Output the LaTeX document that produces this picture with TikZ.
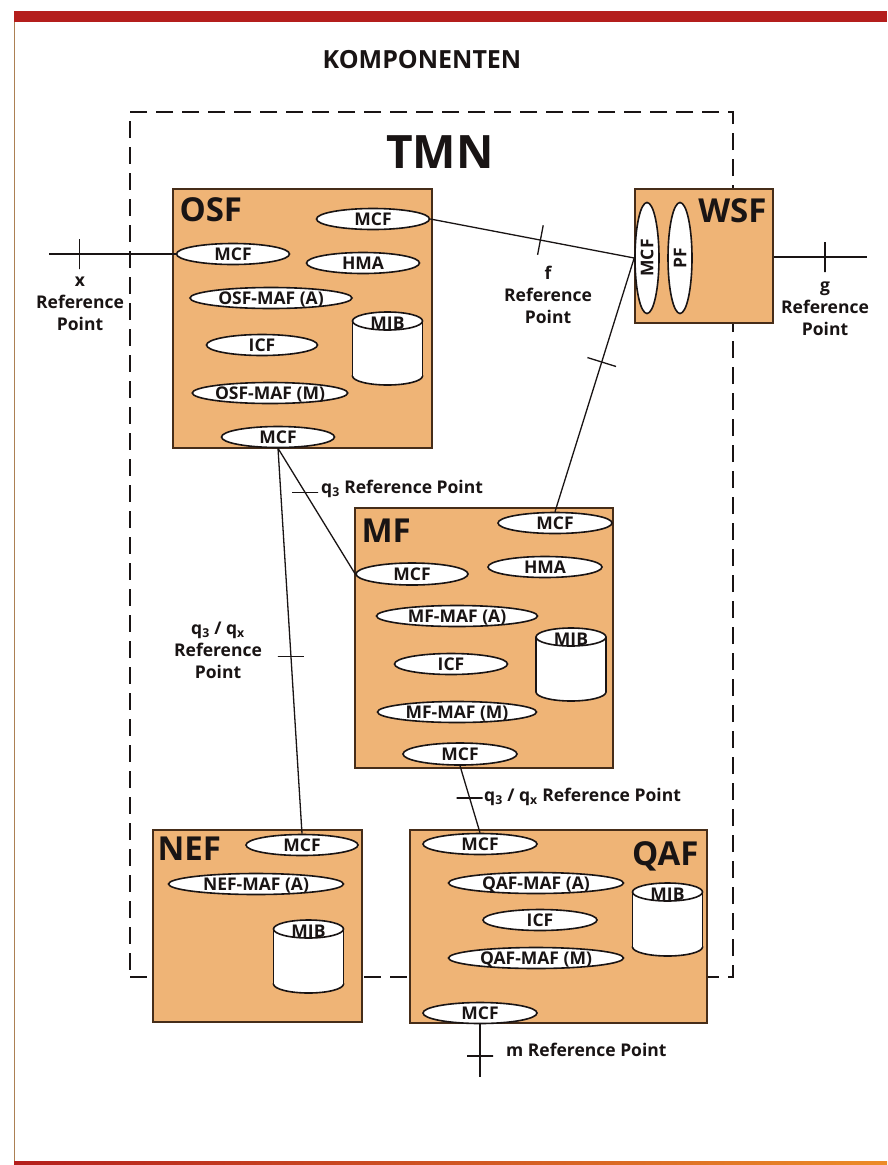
\documentclass[tikz,border=0pt]{standalone}
\usepackage{fontspec}
\setmainfont{Open Sans}
\usetikzlibrary{positioning,shapes.geometric}

\definecolor{boxfill}{RGB}{239,180,118}
\definecolor{boxline}{RGB}{70,45,25}
\definecolor{barred}{RGB}{180,30,28}
\definecolor{barorange}{RGB}{236,140,40}
\definecolor{ink}{RGB}{25,20,20}

\tikzset{
  fbox/.style={draw=boxline, fill=boxfill, line width=1.4pt, rectangle, inner sep=0pt},
  ftitle/.style={font=\fontsize{33}{33}\selectfont\bfseries, inner sep=0pt, text=ink},
  fn/.style={ellipse, draw=ink, fill=white, line width=1.6pt, inner sep=0pt,
    minimum width=113pt, minimum height=21pt, text height=12.5pt, text depth=0pt,
    font=\fontsize{17.5}{17.5}\selectfont\bfseries, text=ink},
  refl/.style={font=\fontsize{17.5}{22}\selectfont\bfseries, text=ink, align=center, inner sep=0pt},
  conn/.style={draw=ink, line width=1.3pt},
  vtick/.style={draw=ink, line width=1.3pt, rectangle, inner sep=0pt, minimum width=0pt, minimum height=30pt},
  htick/.style={draw=ink, line width=1.3pt, rectangle, inner sep=0pt, minimum height=0pt, minimum width=26pt},
  tmnframe/.style={draw=ink, line width=1.8pt, dash pattern=on 17pt off 9pt, inner sep=0pt},
  mibcyl/.pic={
    \draw[ink, line width=1.6pt, fill=white] (0,64) ellipse [x radius=35, y radius=9];
    \fill[white] (-35,9) rectangle (35,64);
    \draw[ink, line width=1.6pt] (-35,9) -- (-35,64) (35,9) -- (35,64);
    \draw[ink, line width=1.6pt, fill=white] (0,9) ellipse [x radius=35, y radius=9];
    \node[font=\fontsize{17.5}{17.5}\selectfont\bfseries, text=ink, inner sep=0pt, text height=12.5pt, text depth=0pt] (-lbl) at (0,11) {MIB};
  }
}

\begin{document}
\begin{tikzpicture}[x=1pt, y=-1pt]
  \useasboundingbox (0,0) rectangle (887,1165);
  \fill[white] (0,0) rectangle (887,1165);

  % page frame
  \fill[barred] (14,11) rectangle (887,22);
  \draw[brown!70!gray, line width=0.8pt] (14.5,22) -- (14.5,1162);
  \shade[left color=barred, right color=barorange] (14,1161) rectangle (887,1165);

  \node[font=\fontsize{25}{25}\selectfont\bfseries, text=ink] (komp) at (422,60) {KOMPONENTEN};

  % TMN frame
  \node[tmnframe, minimum width=603pt, minimum height=865pt] (tmn) at (431.5,544.5) {};
  \node[font=\fontsize{46}{46}\selectfont\bfseries, text=ink] (tmnlbl) at (440,152) {TMN};

  % function blocks
  \node[fbox, minimum width=259pt, minimum height=259pt] (osf) at (302.5,318.5) {};
  \node[fbox, minimum width=138pt, minimum height=134pt] (wsf) at (704,256) {};
  \node[fbox, minimum width=258pt, minimum height=260pt] (mf) at (484,638) {};
  \node[fbox, minimum width=209pt, minimum height=192pt] (nef) at (257.5,926) {};
  \node[fbox, minimum width=297pt, minimum height=193pt] (qaf) at (558.5,926.5) {};

  \node[ftitle, below right=9pt and 7pt of osf.north west] (osft) {OSF};
  \node[ftitle, below left=10pt and 7pt of wsf.north east] (wsft) {WSF};
  \node[ftitle, below right=11pt and 7pt of mf.north west] (mft) {MF};
  \node[ftitle, below right=7pt and 5pt of nef.north west] (neft) {NEF};
  \node[ftitle, below left=12pt and 9pt of qaf.north east] (qaft) {QAF};

  % OSF
  \node[fn] (osfmcfa) at (373,219) {MCF};
  \node[fn] (osfmcfb) at (233,254) {MCF};
  \node[fn] (osfhma) at (363,263) {HMA};
  \node[fn, minimum width=162pt] (osfmafa) at (271,298) {OSF-MAF (A)};
  \node[fn, minimum width=111pt] (osficf) at (262,345) {ICF};
  \node[fn, minimum width=155pt] (osfmafm) at (270,393) {OSF-MAF (M)};
  \node[fn] (osfmcfc) at (278,437) {MCF};
  \pic (osfmib) at (387.5,312) {mibcyl};

  % WSF
  \node[fn, rotate=90, minimum width=111pt, minimum height=24pt] (wsfmcf) at (647,258) {MCF};
  \node[fn, rotate=90, minimum width=111pt, minimum height=24pt] (wsfpf) at (680,258) {PF};

  % MF
  \node[fn, minimum width=114pt] (mfmcfa) at (555,523) {MCF};
  \node[fn, minimum width=112pt, minimum height=22pt] (mfmcfb) at (412,574) {MCF};
  \node[fn, minimum width=114pt] (mfhma) at (545,567) {HMA};
  \node[fn, minimum width=161pt] (mfmafa) at (457,616) {MF-MAF (A)};
  \node[fn] (mficf) at (451,664) {ICF};
  \node[fn, minimum width=159pt] (mfmafm) at (457,712) {MF-MAF (M)};
  \node[fn, minimum width=114pt, minimum height=22pt] (mfmcfc) at (460,754) {MCF};
  \pic (mfmib) at (571,628) {mibcyl};

  % NEF
  \node[fn, minimum width=112pt] (nefmcf) at (302,845) {MCF};
  \node[fn, minimum width=175pt] (nefmafa) at (256,884) {NEF-MAF (A)};
  \pic (nefmib) at (308.5,920) {mibcyl};

  % QAF
  \node[fn, minimum width=114pt] (qafmcfa) at (480,844) {MCF};
  \node[fn, minimum width=175pt] (qafmafa) at (536,883) {QAF-MAF (A)};
  \node[fn, minimum width=114pt] (qaficf) at (540,920) {ICF};
  \node[fn, minimum width=175pt] (qafmafm) at (536,958) {QAF-MAF (M)};
  \node[fn, minimum width=114pt] (qafmcfb) at (480,1013) {MCF};
  \pic (qafmib) at (667.5,883) {mibcyl};

  % reference points
  \coordinate (xend) at (49,254);
  \coordinate (gend) at (867,257);
  \coordinate (mend) at (480,1077);
  \draw[conn] (xend) -- node[vtick, sloped, pos=.24] (xtick) {} (osfmcfb.west);
  \draw[conn] (wsf.east |- gend) -- node[vtick, sloped, pos=.55] (gtick) {} (gend);
  \draw[conn] (osfmcfa.east) -- node[vtick, sloped, pos=.54] (ftick) {} (wsfmcf.north);
  \draw[conn] (mfmcfa.north) -- node[vtick, sloped, pos=.59] (mwtick) {} (wsfmcf.north);
  \draw[conn] (osfmcfc.south) -- node[htick, pos=.35] (qtick) {} (mfmcfb.west);
  \draw[conn] (osfmcfc.south) -- node[htick, pos=.54] (qntick) {} (nefmcf.north);
  \draw[conn] (mfmcfc.south) -- node[htick, pos=.48] (mqtick) {} (qafmcfa.north);
  \draw[conn] (qafmcfb.south) -- node[htick, pos=.6] (mtick) {} (mend);

  \node[refl, anchor=north] (xlbl) at (80,277) {x\\Reference\\Point};
  \node[refl, anchor=north] (flbl) at (548,266) {f\\Reference\\Point};
  \node[refl, anchor=north] (glbl) at (825,282) {g\\Reference\\Point};
  \node[refl, anchor=north] (qnlbl) at (218,622) {q\textsubscript{3} / q\textsubscript{x}\\Reference\\Point};
  \node[refl, anchor=west] (qlbl) at (321,489) {q\textsubscript{3} Reference Point};
  \node[refl, anchor=west] (mqlbl) at (484,797) {q\textsubscript{3} / q\textsubscript{x} Reference Point};
  \node[refl, anchor=west] (mlbl) at (506,1050) {m Reference Point};
\end{tikzpicture}
\end{document}
